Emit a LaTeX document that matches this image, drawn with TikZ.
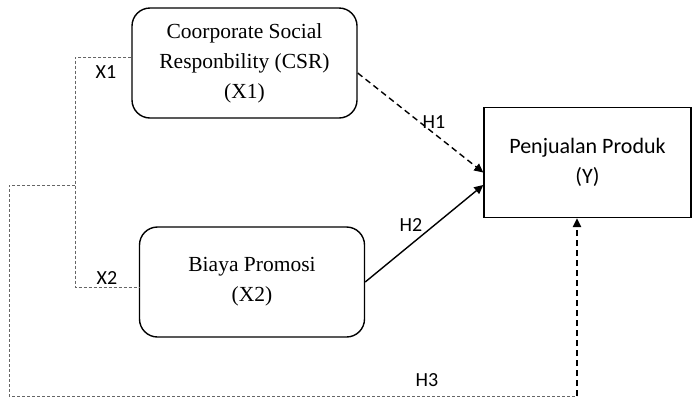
\documentclass[tikz,border=0pt]{standalone}
\usepackage{fontspec}
\setmainfont{Liberation Serif}
\newfontfamily\calibri{Carlito}
\usetikzlibrary{arrows.meta}
\begin{document}
\begin{tikzpicture}[x=1pt, y=-1pt,
    varbox/.style={draw, line width=1.4pt, rounded corners=18pt, minimum width=225pt,
      minimum height=110pt, align=center, font=\fontsize{21.5}{30}\selectfont},
    ybox/.style={draw, line width=1.4pt, minimum width=207pt, minimum height=110pt,
      align=center, font=\calibri\fontsize{22}{30}\selectfont},
    lbl/.style={inner sep=0pt, font=\calibri\fontsize{20}{20}\selectfont},
    guide/.style={draw=black!60, line width=0.9pt, dash pattern=on 3pt off 2pt},
    hyp/.style={line width=1.4pt, -{Triangle[length=9pt, width=8.5pt]}},
    hypdash/.style={hyp, dash pattern=on 6pt off 4pt}]
  \useasboundingbox (0, 0) rectangle (692, 397);
  % variables
  \node[varbox] (csr) at (244.5, 63) {Coorporate Social\\Responbility (CSR)\\(X1)};
  \node[varbox] (biaya) at (252, 282) {Biaya Promosi\\(X2)};
  \node[ybox] (penjualan) at (587.5, 162.5) {Penjualan Produk\\(Y)};
  % joint path for H3
  \coordinate (top) at (75, 57);
  \coordinate (bot) at (75, 287);
  \coordinate (mid) at (75, 185);
  \coordinate (left) at (9, 185);
  \coordinate (corner) at (9, 396);
  \coordinate (foot) at (577, 396);
  \draw[guide] ([yshift=6pt]csr.west) -- (top) -- (bot) -- ([yshift=-5pt]biaya.west);
  \draw[guide] (mid) -- (left) -- (corner) -- (foot);
  % hypotheses
  \draw[hypdash] ([yshift=-10pt]csr.east) -- ([yshift=-10pt]penjualan.west);
  \draw[hyp] (biaya.east) -- ([yshift=-22.5pt]penjualan.west);
  \draw[hypdash] (foot) -- (penjualan.south -| foot);
  % labels
  \node[lbl] (x1) at (106, 72) {X1};
  \node[lbl] (x2) at (107, 278) {X2};
  \node[lbl] (h1) at (434, 122) {H1};
  \node[lbl] (h2) at (411, 225) {H2};
  \node[lbl] (h3) at (427, 380) {H3};
\end{tikzpicture}
\end{document}
